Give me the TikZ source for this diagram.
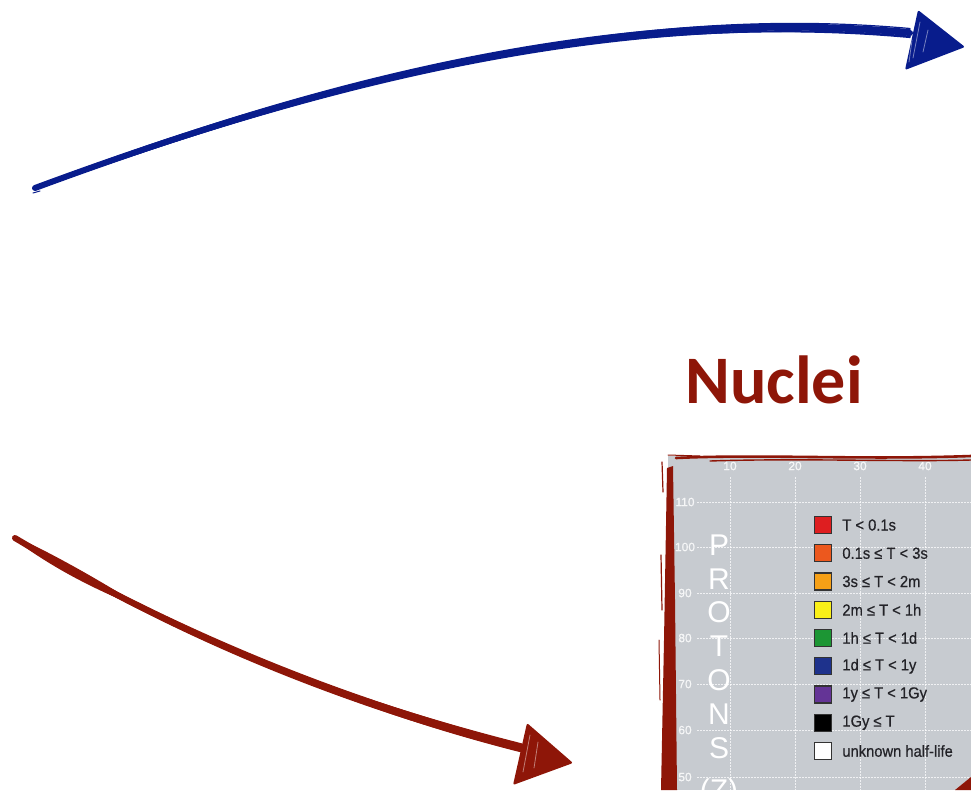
\documentclass[tikz,border=0pt]{standalone}
\usepackage{fontspec}
\usetikzlibrary{calc}
\newfontfamily\titlefont{Carlito}
\newfontfamily\legendfont[FakeStretch=0.92,FakeBold=0.6]{Liberation Sans}
\newfontfamily\axisfont{Liberation Sans}
\newfontfamily\numfont[FakeBold=0.8]{Liberation Sans}

\definecolor{blueink}{RGB}{8,28,140}
\definecolor{redink}{RGB}{142,22,8}
\definecolor{chartgray}{RGB}{199,203,208}
\definecolor{legendtext}{RGB}{35,35,40}
\definecolor{hlRed}{RGB}{222,30,32}
\definecolor{hlOrangeRed}{RGB}{236,88,30}
\definecolor{hlOrange}{RGB}{246,160,22}
\definecolor{hlYellow}{RGB}{250,240,24}
\definecolor{hlGreen}{RGB}{28,150,52}
\definecolor{hlBlue}{RGB}{30,50,140}
\definecolor{hlPurple}{RGB}{100,52,150}
\definecolor{hlBlack}{RGB}{0,0,0}
\definecolor{hlWhite}{RGB}{255,255,255}

\begin{document}
\begin{tikzpicture}[x=1pt,y=-1pt,
  inkstroke/.style={line cap=round,line join=round},
  gridline/.style={white,opacity=0.75,line width=0.8pt,dash pattern=on 1.5pt off 1.5pt},
  axisnum/.style={font=\numfont\fontsize{12}{12}\selectfont,text=white,opacity=0.8,inner sep=0},
  axisletter/.style={font=\axisfont\fontsize{30}{30}\selectfont,text=white,inner sep=0},
  legbox/.style={draw=black!80,line width=1.4pt,minimum size=17pt,inner sep=0},
  legtext/.style={font=\legendfont\fontsize{16}{16}\selectfont,text=legendtext,inner sep=0,anchor=west},
  scratch/.style={white,opacity=0.45,line width=0.8pt,line cap=round}]
\useasboundingbox (0,0) rectangle (971,790);

% ---------- blue sketched arrow ----------
\coordinate (bS)  at (35,188);
\coordinate (bC1) at (300,90);
\coordinate (bC2) at (600,5);
\coordinate (bE)  at (910,33);
\coordinate (bTip) at (965,47);
\coordinate (bL)  at (918,10);
\coordinate (bR)  at (905,70);
\foreach \a/\b/\w in {0/0/6, -3.5/-3/1.8, 3.5/3.5/1.8, -2/4.5/1.2, 2/-4.5/1.2, 4.5/1/1}
  \draw[blueink,inkstroke,line width=\w pt]
    ($(bS)+(\a*0.3,\a*0.25)$) .. controls ($(bC1)+(0,\a)$) and ($(bC2)+(0,\b)$) .. ($(bE)+(0,\b)$);
\draw[blueink,line width=1pt,line cap=round] (33,193) -- (40,191);
\fill[blueink,rounded corners=2pt] (bL) -- (bTip) -- (bR) -- cycle;
\draw[scratch] (920,22) -- (913,58);
\draw[scratch] (928,30) -- (923,52);
\draw[scratch] (912,40) -- (909,62);

% ---------- red sketched arrow ----------
\coordinate (rS)  at (15,538);
\coordinate (rC1) at (130,607);
\coordinate (rC2) at (300,692);
\coordinate (rE)  at (522,748);
\coordinate (rTip) at (573,763);
\coordinate (rL)  at (527,723);
\coordinate (rR)  at (513,785);
\coordinate (rM)  at (133.3,603.2);
\foreach \a/\b/\w in {0/0/6, -3.5/-3/2, 3.5/3/2, -2/4/1.2, 2/-4/1.2}
  \draw[redink,inkstroke,line width=\w pt]
    ($(rS)+(\a*0.4,\a*0.3)$) .. controls ($(rC1)+(0,\a)$) and ($(rC2)+(0,\b)$) .. ($(rE)+(0,\b)$);
% heavier ink where the stroke begins
\foreach \dx/\dy in {2.2/-3.6, -2.2/3.6}
  \draw[redink,inkstroke,line width=3pt]
    (rS) .. controls ($(49.5,558.7)+(\dx,\dy)$) and ($(89,580.8)+(\dx,\dy)$) .. (rM);
\fill[redink,rounded corners=2pt] (rL) -- (rTip) -- (rR) -- cycle;
\draw[scratch] (530,735) -- (523,772);
\draw[scratch] (538,742) -- (534,768);

% ---------- title ----------
\node[font=\titlefont\bfseries\fontsize{68}{68}\selectfont,text=redink,anchor=base,inner sep=0]
  (title) at (774,403) {Nuclei};

% ---------- half-life chart ----------
\begin{scope}
  \clip (668,456) rectangle (971,790);
  \fill[chartgray] (668,456) rectangle (971,790);
  \foreach \x in {730,795,860,925}
    \draw[gridline] (\x,477) -- (\x,790);
  \foreach \y in {502,547,593,638,684,730,777}
    \draw[gridline] (697,\y) -- (971,\y);
  \foreach \x/\t in {730/10,795/20,860/30,925/40}
    \node[axisnum] (top\t) at (\x,466) {\t};
  \foreach \y/\t in {502/110,547/100,593/90,638/80,684/70,730/60,777/50}
    \node[axisnum] (left\t) at (685,\y) {\t};
  \foreach \c [count=\i] in {P,R,O,T,O,N,S}
    \node[axisletter] (zl\i) at (719,{545+33.8*(\i-1)}) {\c};
  \node[axisletter] (zparen) at (719,793) {(Z)};
  \foreach \col/\txt [count=\i] in {hlRed/{T < 0.1s},
      hlOrangeRed/{0.1s ≤ T < 3s},
      hlOrange/{3s ≤ T < 2m},
      hlYellow/{2m ≤ T < 1h},
      hlGreen/{1h ≤ T < 1d},
      hlBlue/{1d ≤ T < 1y},
      hlPurple/{1y ≤ T < 1Gy},
      hlBlack/{1Gy ≤ T},
      hlWhite/{unknown half-life}} {
    \node[legbox,fill=\col] (sw\i) at (823,{525+28.25*(\i-1)}) {};
    \node[legtext] (lt\i) at ($(sw\i.east)+(10,0)$) {\txt};
  }
\end{scope}

% sketched red frame of the chart
\fill[redink] (667,468) -- (673,466) -- (675,600) -- (677,790) -- (661,790) -- (664,640) -- cycle;
\draw[redink,inkstroke,line width=1.2pt] (662,462) -- (663,492);
\draw[redink,inkstroke,line width=1.2pt] (661,555) -- (662,610);
\draw[redink,inkstroke,line width=1pt] (659,640) -- (660,700);
\draw[redink,inkstroke,line width=2.6pt] (676,458) .. controls (760,454) and (860,460) .. (971,456);
\draw[redink,inkstroke,line width=1.4pt] (710,461) .. controls (800,458) and (900,462) .. (971,460);
\draw[redink,inkstroke,line width=1pt] (668,455) -- (700,456);
\fill[redink] (955,790) -- (971,777) -- (971,790) -- cycle;
\end{tikzpicture}
\end{document}
